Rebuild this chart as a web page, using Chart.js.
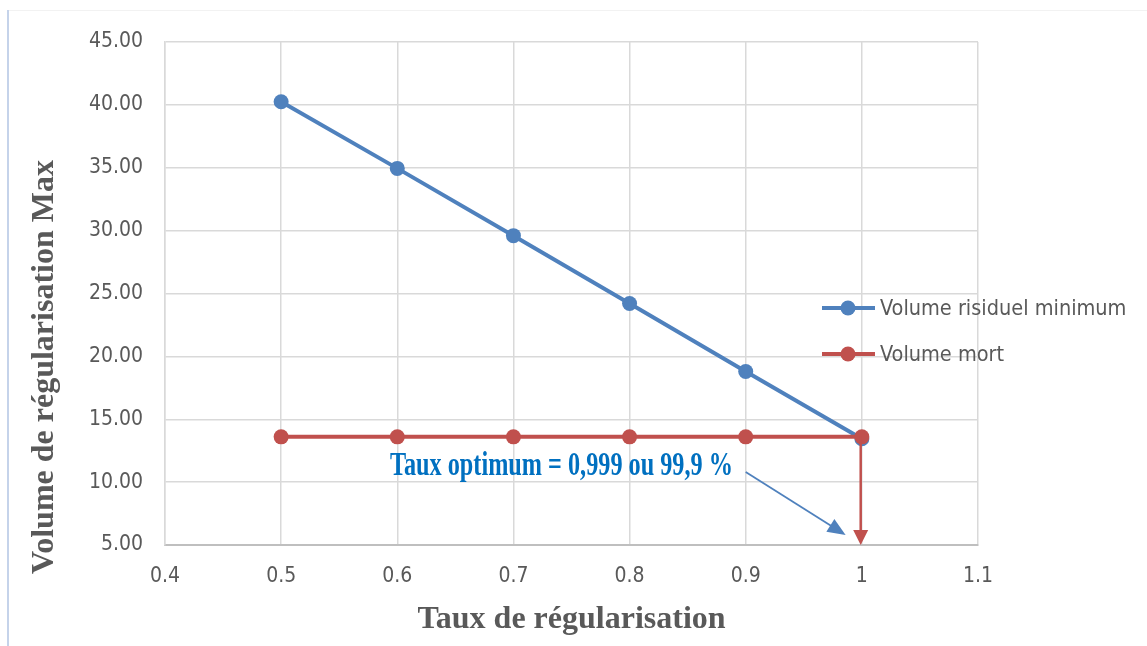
<!DOCTYPE html>
<html lang="fr">
<head>
<meta charset="utf-8">
<title>Volume de régularisation</title>
<script src="https://cdn.jsdelivr.net/npm/chart.js@4.4.1/dist/chart.umd.min.js"></script>
<style>
  html, body { margin: 0; padding: 0; background: #ffffff; }
  #wrap { width: 1147px; height: 646px; position: relative; }
</style>
</head>
<body>
<div id="wrap"><canvas id="chart" width="1147" height="646"></canvas></div>
<script>
// Taux de régularisation (x) and the two volume curves
const taux = [0.5, 0.6, 0.7, 0.8, 0.9, 1.0];
const volumeResiduelMin = [40.25, 34.95, 29.6, 24.2, 18.8, 13.45];
const volumeMort = [13.6, 13.6, 13.6, 13.6, 13.6, 13.6];
const seriesNames = ['Volume risiduel minimum', 'Volume mort'];

// Axis ranges and ticks
const xTicks = [0.4, 0.5, 0.6, 0.7, 0.8, 0.9, 1.0, 1.1];
const yTicks = [5, 10, 15, 20, 25, 30, 35, 40, 45];

// Optimum rate marked by the arrows
const tauxOptimum = 0.999;
const annotationText = 'Taux optimum = 0,999 ou 99,9 %';

const BLUE = '#4F81BD';
const RED = '#C0504D';
const TEXT = '#595959';
const TICK_FAMILY = '"DejaVu Sans Condensed", "DejaVu Sans", sans-serif';

const toPoints = (xs, ys) => xs.map((x, i) => ({ x: x, y: ys[i] }));

function arrowHead(ctx, x1, y1, x2, y2, len, halfW, color) {
  const a = Math.atan2(y2 - y1, x2 - x1);
  ctx.save();
  ctx.fillStyle = color;
  ctx.translate(x2, y2);
  ctx.rotate(a);
  ctx.beginPath();
  ctx.moveTo(0, 0);
  ctx.lineTo(-len, -halfW);
  ctx.lineTo(-len, halfW);
  ctx.closePath();
  ctx.fill();
  ctx.restore();
}

// Page frame, legend, axis titles and the optimum annotation
const decorations = {
  id: 'decorations',
  beforeDraw(chart) {
    const ctx = chart.ctx;
    ctx.save();
    ctx.fillStyle = '#ffffff';
    ctx.fillRect(0, 0, chart.width, chart.height);
    ctx.strokeStyle = '#F2F2F2';
    ctx.lineWidth = 1;
    ctx.beginPath();
    ctx.moveTo(9, 10.5);
    ctx.lineTo(chart.width, 10.5);
    ctx.stroke();
    ctx.strokeStyle = '#C5D3EA';
    ctx.lineWidth = 2;
    ctx.beginPath();
    ctx.moveTo(8, 10);
    ctx.lineTo(8, chart.height);
    ctx.stroke();
    ctx.restore();
  },
  afterDatasetsDraw(chart) {
    const ctx = chart.ctx;
    const xs = chart.scales.x, ys = chart.scales.y;

    // Vertical red arrow down to the optimum rate
    const xo = xs.getPixelForValue(tauxOptimum);
    const yTop = ys.getPixelForValue(volumeMort[volumeMort.length - 1]);
    const yBot = ys.getPixelForValue(ys.min);
    ctx.save();
    ctx.strokeStyle = RED;
    ctx.lineWidth = 2.5;
    ctx.beginPath();
    ctx.moveTo(xo, yTop);
    ctx.lineTo(xo, yBot - 12);
    ctx.stroke();
    arrowHead(ctx, xo, yTop, xo, yBot, 15, 7.5, RED);

    // Pointer from the label to the optimum
    const ax1 = xs.getPixelForValue(0.9), ay1 = ys.getPixelForValue(10.8);
    const ax2 = xs.getPixelForValue(0.986), ay2 = ys.getPixelForValue(5.8);
    ctx.strokeStyle = BLUE;
    ctx.lineWidth = 1.8;
    const ang = Math.atan2(ay2 - ay1, ax2 - ax1);
    ctx.beginPath();
    ctx.moveTo(ax1, ay1);
    ctx.lineTo(ax2 - 14 * Math.cos(ang), ay2 - 14 * Math.sin(ang));
    ctx.stroke();
    arrowHead(ctx, ax1, ay1, ax2, ay2, 18, 7.5, BLUE);

    // Label (condensed bold serif)
    const tx = xs.getPixelForValue(0.5937), ty = ys.getPixelForValue(10.57);
    ctx.font = 'bold 33px "Liberation Serif", "Times New Roman", serif';
    ctx.fillStyle = '#0070C0';
    ctx.textBaseline = 'alphabetic';
    ctx.textAlign = 'left';
    const w = ctx.measureText(annotationText).width;
    const sx = 343 / w;
    ctx.translate(tx, ty);
    ctx.scale(sx, 1);
    ctx.fillText(annotationText, 0, 0);
    ctx.restore();
  },
  afterDraw(chart) {
    const ctx = chart.ctx;
    const area = chart.chartArea;
    ctx.save();

    // Axis titles
    ctx.fillStyle = TEXT;
    ctx.font = 'bold 32px "Liberation Serif", "Times New Roman", serif';
    ctx.textAlign = 'center';
    ctx.textBaseline = 'alphabetic';
    ctx.fillText('Taux de régularisation', (area.left + area.right) / 2, 628);
    ctx.save();
    ctx.translate(53, 367);
    ctx.rotate(-Math.PI / 2);
    ctx.fillText('Volume de régularisation Max', 0, 0);
    ctx.restore();

    // Legend: line with a circular marker
    const colors = [BLUE, RED];
    const rows = [308, 354];
    ctx.font = '21.5px ' + TICK_FAMILY;
    ctx.textAlign = 'left';
    ctx.textBaseline = 'middle';
    seriesNames.forEach((name, i) => {
      const y = rows[i];
      ctx.strokeStyle = colors[i];
      ctx.lineWidth = 4;
      ctx.beginPath();
      ctx.moveTo(822, y);
      ctx.lineTo(875, y);
      ctx.stroke();
      ctx.fillStyle = colors[i];
      ctx.beginPath();
      ctx.arc(848, y, 7.5, 0, Math.PI * 2);
      ctx.fill();
      ctx.fillStyle = TEXT;
      ctx.fillText(name, 880, y + 1);
    });
    ctx.restore();
  }
};

new Chart(document.getElementById('chart'), {
  type: 'scatter',
  data: {
    datasets: [
      {
        label: seriesNames[1],
        data: toPoints(taux, volumeMort),
        showLine: true,
        borderColor: RED,
        backgroundColor: RED,
        borderWidth: 4,
        pointRadius: 7.5,
        pointHoverRadius: 7.5,
        pointBorderWidth: 0,
        order: 0
      },
      {
        label: seriesNames[0],
        data: toPoints(taux, volumeResiduelMin),
        showLine: true,
        borderColor: BLUE,
        backgroundColor: BLUE,
        borderWidth: 4,
        pointRadius: 7.5,
        pointHoverRadius: 7.5,
        pointBorderWidth: 0,
        order: 1
      }
    ]
  },
  options: {
    responsive: false,
    animation: false,
    events: [],
    layout: { padding: { left: 0, top: 42, right: 169, bottom: 0 } },
    plugins: { legend: { display: false }, tooltip: { enabled: false } },
    scales: {
      x: {
        type: 'linear',
        min: xTicks[0],
        max: xTicks[xTicks.length - 1],
        afterBuildTicks(scale) { scale.ticks = xTicks.map(v => ({ value: v })); },
        afterFit(scale) { scale.height = 101; },
        ticks: {
          color: TEXT,
          font: { family: TICK_FAMILY, size: 21 },
          padding: 19,
          maxRotation: 0,
          callback: v => String(Number(v.toFixed(1)))
        },
        grid: { color: '#D9D9D9', lineWidth: 1.5, drawTicks: false },
        border: { color: '#BFBFBF', width: 2 }
      },
      y: {
        type: 'linear',
        min: yTicks[0],
        max: yTicks[yTicks.length - 1],
        afterBuildTicks(scale) { scale.ticks = yTicks.map(v => ({ value: v })); },
        afterFit(scale) { scale.width = 165; },
        ticks: {
          color: TEXT,
          font: { family: TICK_FAMILY, size: 21 },
          padding: 22,
          callback: v => v.toFixed(2)
        },
        grid: { color: '#D9D9D9', lineWidth: 1.5, drawTicks: false },
        border: { color: '#D9D9D9', width: 1.5 }
      }
    }
  },
  plugins: [decorations]
});
</script>
</body>
</html>
